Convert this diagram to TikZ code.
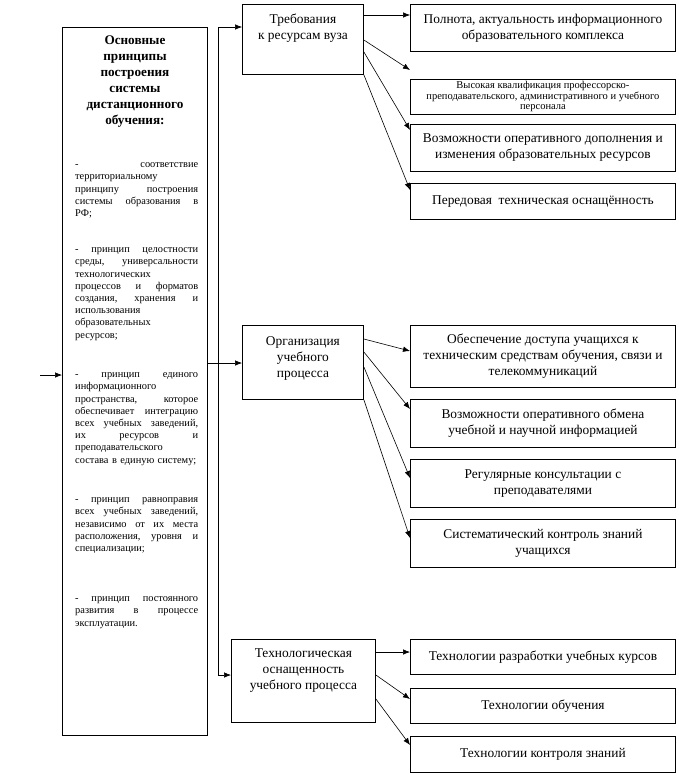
\documentclass[tikz,border=0pt]{standalone}
\usepackage{fontspec}
\setmainfont{Liberation Serif}
\usetikzlibrary{arrows.meta}
\setlength{\parindent}{0pt}
\newcommand{\jline}[1]{\leavevmode\hbox to 123pt{#1}}

\begin{document}
\begin{tikzpicture}[
  x=1pt, y=-1pt,
  font=\fontsize{13.4}{16}\selectfont,
  box/.style={draw=black, line width=0.9pt, inner sep=2pt, align=center, minimum width=265pt, anchor=north west},
  frame/.style={draw=black, line width=0.9pt, inner sep=0pt, anchor=north west},
  ftxt/.style={inner sep=0pt, align=center, anchor=north},
  item/.style={inner sep=0pt, text width=123pt, align=left, anchor=north west, font=\fontsize{10.4}{12.2}\selectfont},
  arr/.style={-{Latex[length=7pt,width=5.5pt]}, line width=0.6pt},
]
\useasboundingbox (0,0) rectangle (678,774);

\node[frame, minimum width=145pt, minimum height=708pt] (lbox) at (62,27) {};
\node[ftxt, font=\bfseries\fontsize{13.2}{16}\selectfont] (title) at ([yshift=-9pt]lbox.north)
  {Основные\\принципы\\построения\\системы\\дистанционного\\обучения:};
\node[item] (p1) at (75,159) {\strut\jline{-\hfill соответствие}\\территориальному\\\jline{принципу\hfill построения}\\\jline{системы\hfill образования\hfill в}\\РФ;};
\node[item] (p2) at (75,244) {\strut\jline{-\hfill принцип\hfill целостности}\\\jline{среды,\hfill универсальности}\\технологических\\\jline{процессов\hfill и\hfill форматов}\\\jline{создания,\hfill хранения\hfill и}\\использования\\образовательных\\ресурсов;};
\node[item] (p3) at (75,369) {\strut\jline{-\hfill принцип\hfill единого}\\информационного\\\jline{пространства,\hfill которое}\\\jline{обеспечивает\hfill интеграцию}\\\jline{всех\hfill учебных\hfill заведений,}\\\jline{их\hfill ресурсов\hfill и}\\преподавательского\\состава в единую систему;};
\node[item] (p4) at (75,494) {\strut\jline{-\hfill принцип\hfill равноправия}\\\jline{всех\hfill учебных\hfill заведений,}\\\jline{независимо\hfill от\hfill их\hfill места}\\\jline{расположения,\hfill уровня\hfill и}\\специализации;};
\node[item] (p5) at (75,593) {\strut\jline{-\hfill принцип\hfill постоянного}\\\jline{развития\hfill в\hfill процессе}\\эксплуатации.};

\node[frame, minimum width=121pt, minimum height=70pt] (req) at (242,4) {};
\node[ftxt] (reqtxt) at ([yshift=-10pt]req.north) {Требования\\к ресурсам вуза};
\node[frame, minimum width=121pt, minimum height=74pt] (org) at (242,325) {};
\node[ftxt] (orgtxt) at ([yshift=-11pt]org.north) {Организация\\учебного\\процесса};
\node[frame, minimum width=144pt, minimum height=83pt] (tech) at (231,639) {};
\node[ftxt] (techtxt) at ([yshift=-10pt]tech.north) {Технологическая\\оснащенность\\учебного процесса};

\node[box, minimum height=47pt] (polnota) at (410,4) {Полнота, актуальность информационного\\образовательного комплекса};
\node[box, minimum height=32pt, font=\fontsize{10.5}{10.5}\selectfont] (kval) at (410,79) {Высокая квалификация профессорско-\\преподавательского, административного и учебного\\персонала};
\node[box, minimum height=47pt] (dopoln) at (410,124) {Возможности оперативного дополнения и\\изменения образовательных ресурсов};
\node[box, minimum height=36pt] (osnasch) at (410,183) {Передовая\ \ техническая оснащённость};

\node[box, minimum height=62pt] (dostup) at (410,325) {Обеспечение доступа учащихся к\\техническим средствам обучения, связи и\\телекоммуникаций};
\node[box, minimum height=48pt] (obmen) at (410,399) {Возможности оперативного обмена\\учебной и научной информацией};
\node[box, minimum height=48pt] (konsult) at (410,459) {Регулярные консультации с\\преподавателями};
\node[box, minimum height=48pt] (kontrol) at (410,519) {Систематический контроль знаний\\учащихся};

\node[box, minimum height=35pt] (razrab) at (410,639) {Технологии разработки учебных курсов};
\node[box, minimum height=35pt] (obuch) at (410,688) {Технологии обучения};
\node[box, minimum height=36pt] (kontzn) at (410,736) {Технологии контроля знаний};

\coordinate (in) at (40,375);
\coordinate (bt) at (218,27);
\coordinate (bm) at (218,363);
\coordinate (bb) at (218,675);
\draw[arr] (in) -- (in -| lbox.west);
\draw[line width=0.9pt] (bt) -- (bb);
\draw[arr] (bt) -- (bt -| req.west);
\draw[arr] (lbox.east |- bm) -- (bm -| org.west);
\draw[arr] (bb) -- (bb -| tech.west);

\draw[arr] ([yshift=-11pt]req.north east) -- ([yshift=-11pt]polnota.north west);
\draw[arr] ([yshift=-36pt]req.north east) -- ([yshift=9pt]kval.north west);
\draw[arr] ([yshift=-48pt]req.north east) -- ([yshift=-6pt]dopoln.north west);
\draw[arr] (req.south east) -- ([yshift=-7pt]osnasch.north west);

\draw[arr] ([yshift=-14pt]org.north east) -- ([yshift=-26pt]dostup.north west);
\draw[arr] ([yshift=-27pt]org.north east) -- ([yshift=-10pt]obmen.north west);
\draw[arr] ([yshift=-42pt]org.north east) -- ([yshift=-19pt]konsult.north west);
\draw[arr] (org.south east) -- ([yshift=-19pt]kontrol.north west);

\draw[arr] ([yshift=-13pt]tech.north east) -- ([yshift=-13pt]razrab.north west);
\draw[arr] ([yshift=-36pt]tech.north east) -- ([yshift=-11pt]obuch.north west);
\draw[arr] ([yshift=-60pt]tech.north east) -- ([yshift=-9pt]kontzn.north west);
\end{tikzpicture}
\end{document}
